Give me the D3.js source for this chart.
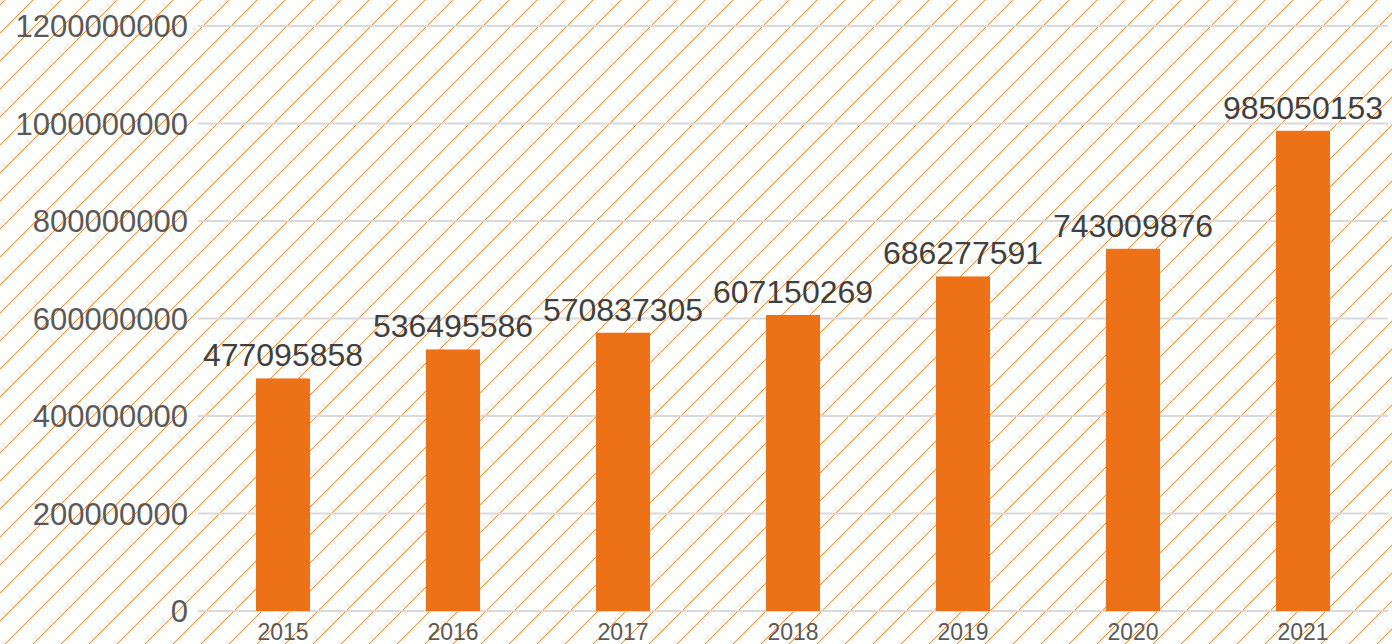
<!DOCTYPE html>
<html>
<head>
<meta charset="utf-8">
<script src="https://cdn.jsdelivr.net/npm/d3@7"></script>
<style>
html,body{margin:0;padding:0;background:#fff;}
svg{display:block;}
</style>
</head>
<body>
<svg id="chart" width="1392" height="644"></svg>
<script>
const categories = ["2015","2016","2017","2018","2019","2020","2021"];
const values = [477095858, 536495586, 570837305, 607150269, 686277591, 743009876, 985050153];
const yTicks = [0, 200000000, 400000000, 600000000, 800000000, 1000000000, 1200000000];

const W = 1392, H = 644;
const svg = d3.select("#chart");

// hatched background pattern
const defs = svg.append("defs");
const pat = defs.append("pattern")
  .attr("id", "hatch")
  .attr("patternUnits", "userSpaceOnUse")
  .attr("width", 28).attr("height", 28)
  .attr("patternTransform", "translate(5,0)");
pat.append("path")
  .attr("d", "M-2,2 L2,-2 M0,28 L28,0 M26,30 L30,26")
  .attr("stroke", "#ef7f2d")
  .attr("stroke-width", 1)
  .attr("fill", "none");
svg.append("rect").attr("width", W).attr("height", H).attr("fill", "#fff");
svg.append("rect").attr("width", W).attr("height", H).attr("fill", "url(#hatch)");

const x = d3.scaleBand().domain(categories).range([198, 1388])
  .paddingInner(0.682).paddingOuter(0.341);
const y = d3.scaleLinear().domain([0, 1200000000]).range([611, 26]);

// gridlines
svg.append("g").selectAll("line").data(yTicks).join("line")
  .attr("x1", 198).attr("x2", 1388)
  .attr("y1", d => y(d)).attr("y2", d => y(d))
  .attr("stroke", "#d9d9d9").attr("stroke-width", 2);

// y axis labels
const yAxis = d3.axisLeft(y).tickValues(yTicks).tickFormat(d => String(d)).tickSize(0).tickPadding(0);
const yg = svg.append("g").attr("transform", "translate(188,0)").call(yAxis);
yg.select(".domain").remove();
yg.selectAll("text")
  .attr("font-family", "'Liberation Sans', Arial, sans-serif")
  .attr("font-size", 31)
  .attr("fill", "#595959")
  .attr("dy", "0.35em");

// bars
svg.append("g").selectAll("rect").data(values).join("rect")
  .attr("x", (d, i) => x(categories[i]))
  .attr("width", x.bandwidth())
  .attr("y", d => y(d))
  .attr("height", d => y(0) - y(d))
  .attr("fill", "#ec7117");

// value labels
svg.append("g").selectAll("text").data(values).join("text")
  .attr("x", (d, i) => x(categories[i]) + x.bandwidth() / 2)
  .attr("y", d => y(d) - 12)
  .attr("text-anchor", "middle")
  .attr("font-family", "'Liberation Sans', Arial, sans-serif")
  .attr("font-size", 32)
  .attr("fill", "#404040")
  .text(d => String(d));

// x axis labels
const xAxis = d3.axisBottom(x).tickSize(0).tickPadding(0);
const xg = svg.append("g").attr("transform", "translate(0,611)").call(xAxis);
xg.select(".domain").remove();
xg.selectAll("text")
  .attr("font-family", "'Liberation Sans', Arial, sans-serif")
  .attr("font-size", 23)
  .attr("fill", "#595959")
  .attr("dy", null)
  .attr("y", 29);
</script>
</body>
</html>
